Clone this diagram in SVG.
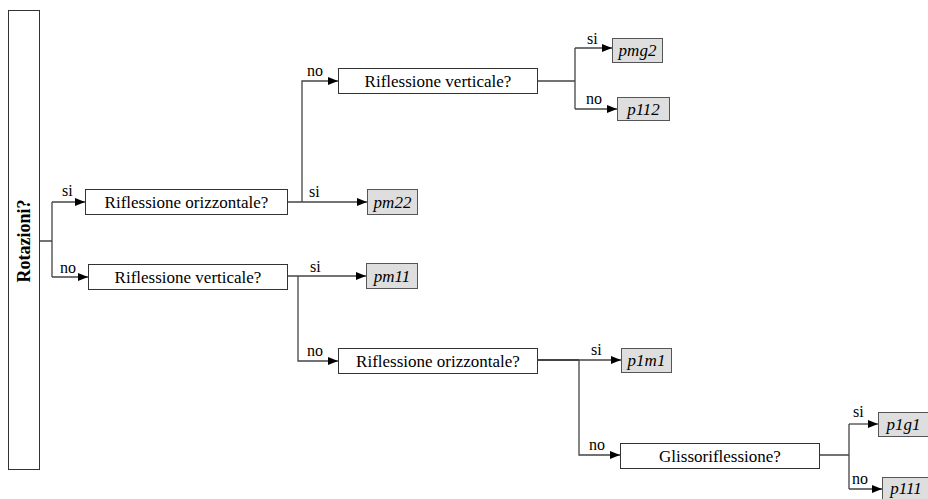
<svg xmlns="http://www.w3.org/2000/svg" width="928" height="499" viewBox="0 0 928 499" font-family="'Liberation Serif', Times, 'Times New Roman', Tinos, FreeSerif, 'DejaVu Serif', serif">
<defs>
<marker id="arr" markerWidth="10" markerHeight="8" refX="10" refY="4" orient="auto" markerUnits="userSpaceOnUse">
<path d="M0,0 L10,4 L0,8 Z" fill="#000"/>
</marker>
<style>
.q{fill:#fff;stroke:#333;stroke-width:1}
.leaf{fill:#dedede;stroke:#555;stroke-width:1}
.t{font-size:17px;text-anchor:middle;fill:#000}
.lt{font-size:17px;font-style:italic;text-anchor:middle;fill:#000}
.lb{font-size:16px;fill:#000}
.rot{font-size:18px;font-weight:bold;text-anchor:middle;fill:#000}
.c{fill:none;stroke:#444;stroke-width:1.3}
.ca{fill:none;stroke:#444;stroke-width:1.3;marker-end:url(#arr)}
</style>
</defs>
<rect width="928" height="499" fill="#fff"/>

<g id="connectors">
<path class="c" d="M39,241 H52 M52,202 V277"/>
<path class="ca" d="M52,202 H85"/>
<path class="ca" d="M52,277 H88"/>
<path class="ca" d="M287,202 H367"/>
<path class="ca" d="M302,202 V81 H338"/>
<path class="c" d="M537,81 H575 M575,48 V109"/>
<path class="ca" d="M575,48 H612"/>
<path class="ca" d="M575,109 H617"/>
<path class="ca" d="M287,276 H366"/>
<path class="ca" d="M298,276 V361 H338"/>
<path class="c" d="M537,360 H579" style="stroke-width:2.2"/>
<path class="ca" d="M579,360 H621"/>
<path class="ca" d="M579,360 V455 H620"/>
<path class="c" d="M819,455 H849 M849,424 V489"/>
<path class="ca" d="M849,424 H878"/>
<path class="ca" d="M849,489 H882"/>
<text class="lb" x="62" y="196">si</text>
<text class="lb" x="60" y="273">no</text>
<text class="lb" x="309" y="197">si</text>
<text class="lb" x="307" y="76">no</text>
<text class="lb" x="587" y="44">si</text>
<text class="lb" x="586" y="104">no</text>
<text class="lb" x="310" y="272">si</text>
<text class="lb" x="307" y="356">no</text>
<text class="lb" x="591" y="355">si</text>
<text class="lb" x="589" y="450">no</text>
<text class="lb" x="853" y="417">si</text>
<text class="lb" x="852" y="484">no</text>
</g>

<g id="rotazioni">
<rect class="q" x="8.5" y="10.5" width="31" height="459"/>
<text class="rot" x="30" y="241" transform="rotate(-90 30 241)">Rotazioni?</text>
</g>

<g id="q-rifl-orizz-1">
<rect class="q" x="85.5" y="189.5" width="202" height="25"/>
<text class="t" x="186.5" y="208">Riflessione orizzontale?</text>
</g>

<g id="q-rifl-vert-1">
<rect class="q" x="338.5" y="68.5" width="199" height="25"/>
<text class="t" x="438" y="87">Riflessione verticale?</text>
</g>

<g id="q-rifl-vert-2">
<rect class="q" x="88.5" y="264.5" width="199" height="25"/>
<text class="t" x="188" y="283">Riflessione verticale?</text>
</g>

<g id="q-rifl-orizz-2">
<rect class="q" x="338.5" y="348.5" width="199" height="25"/>
<text class="t" x="438" y="367">Riflessione orizzontale?</text>
</g>

<g id="q-glisso">
<rect class="q" x="620.5" y="443.5" width="199" height="25"/>
<text class="t" x="720" y="462">Glissoriflessione?</text>
</g>

<g id="pmg2">
<rect class="leaf" x="612.5" y="38.5" width="50" height="24"/>
<text class="lt" x="637.5" y="56">pmg2</text>
</g>
<g id="p112">
<rect class="leaf" x="617.5" y="97.5" width="52" height="23"/>
<text class="lt" x="643.5" y="115">p112</text>
</g>
<g id="pm22">
<rect class="leaf" x="367.5" y="189.5" width="50" height="25"/>
<text class="lt" x="392.5" y="207.5">pm22</text>
</g>
<g id="pm11">
<rect class="leaf" x="366.5" y="263.5" width="51" height="25"/>
<text class="lt" x="392" y="281.5">pm11</text>
</g>
<g id="p1m1">
<rect class="leaf" x="621.5" y="348.5" width="50" height="24"/>
<text class="lt" x="646.5" y="366">p1m1</text>
</g>
<g id="p1g1">
<rect class="leaf" x="878.5" y="412.5" width="52" height="24"/>
<text class="lt" x="903.5" y="430">p1g1</text>
</g>
<g id="p111">
<rect class="leaf" x="882.5" y="477.5" width="52" height="24"/>
<text class="lt" x="906" y="494">p111</text>
</g>
</svg>
